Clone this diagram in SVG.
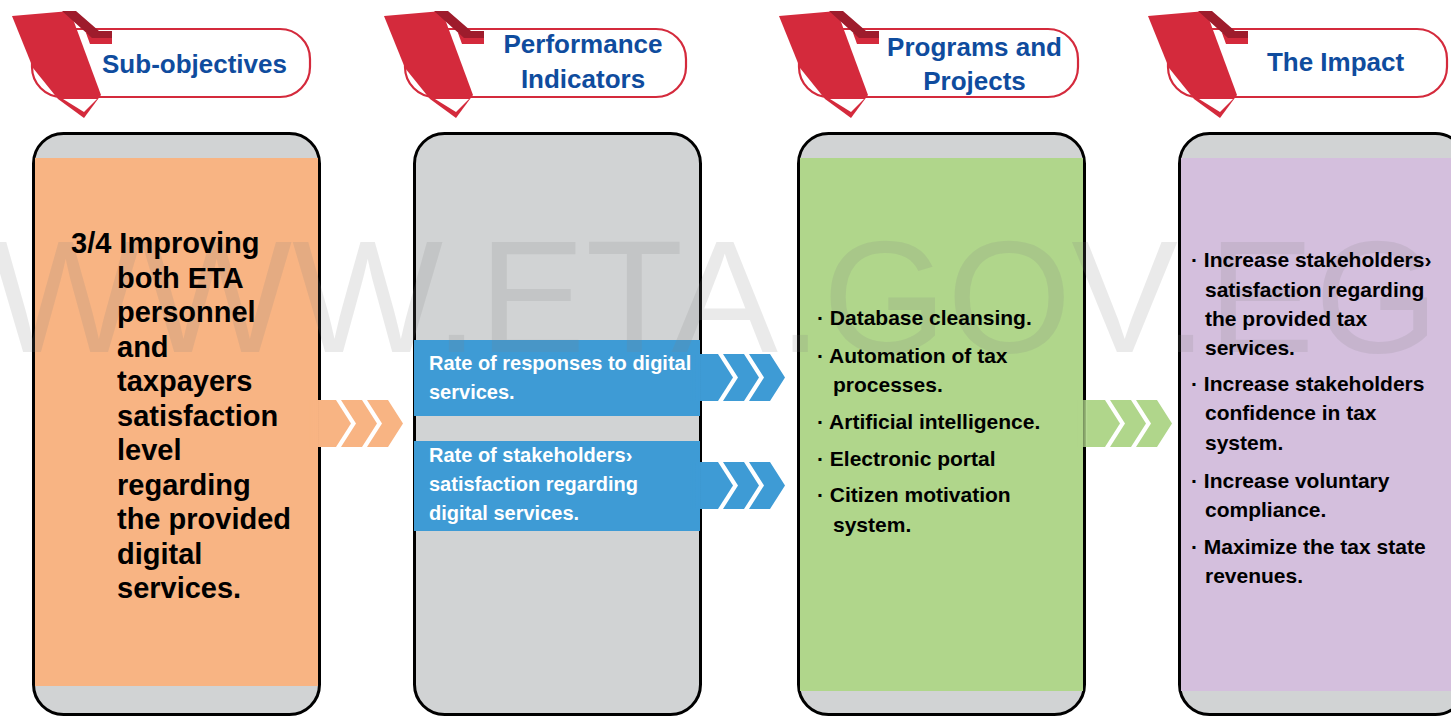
<svg xmlns="http://www.w3.org/2000/svg" xmlns:xlink="http://www.w3.org/1999/xlink" width="1451" height="716" viewBox="0 0 1451 716">
<style>
.box{fill:#d1d3d4;stroke:#000;stroke-width:3}
.pill{fill:#fff;stroke:#d42a3c;stroke-width:2.2}
.hdr{font-family:"Liberation Sans",Arial,sans-serif;font-weight:bold;font-size:26px;fill:#0f4c9e;text-anchor:middle}
.t1{font-family:"Liberation Sans",Arial,sans-serif;font-weight:bold;font-size:29px;fill:#000}
.t2{font-family:"Liberation Sans",Arial,sans-serif;font-weight:bold;font-size:20px;fill:#fff}
.t3{font-family:"Liberation Sans",Arial,sans-serif;font-weight:bold;font-size:21px;fill:#000}
.wm{font-family:"Liberation Sans",Arial,sans-serif;font-size:160px;fill:#808080;opacity:0.16}
</style>
<defs>
<linearGradient id="fg" x1="0" y1="0" x2="1" y2="0">
<stop offset="0" stop-color="#fff" stop-opacity="0.25"/>
<stop offset="0.25" stop-color="#fff" stop-opacity="1"/>
</linearGradient>
<mask id="fade" maskContentUnits="objectBoundingBox">
<rect width="1" height="1" fill="url(#fg)"/>
</mask>
<g id="ribbon">
<polygon points="12,16 70,11 101,95 84,118 58,99 33,68" fill="#d42a3c"/>
<polygon points="63,99 97,99 84,112" fill="#fff"/>
<polygon points="86,33 112,33 112,44 90,44" fill="#d42a3c"/>
<polygon points="62,11 76,11 99,31 112,31 112,38 92,38" fill="#9e1c2c"/>
</g>
<g id="chev">
<polygon points="0,0 28,0 43,23.5 28,47 0,47" mask="url(#fade)"/>
<polygon points="33,0 54,0 69,23.5 54,47 33,47 48,23.5"/>
<polygon points="59,0 80,0 95,23.5 80,47 59,47 74,23.5"/>
</g>
</defs>
<rect width="1451" height="716" fill="#fff"/>

<g id="header-1">
<rect class="pill" x="32" y="29" width="278" height="68" rx="30"/>
<use xlink:href="#ribbon" href="#ribbon"/>
<text class="hdr" x="194.5" y="73">Sub-objectives</text>
</g>
<g id="header-2">
<rect class="pill" x="405" y="29" width="281" height="68" rx="30"/>
<use xlink:href="#ribbon" href="#ribbon" transform="translate(372,0)"/>
<text class="hdr" x="583" y="53">Performance</text>
<text class="hdr" x="583" y="88">Indicators</text>
</g>
<g id="header-3">
<rect class="pill" x="799" y="29" width="279" height="68" rx="30"/>
<use xlink:href="#ribbon" href="#ribbon" transform="translate(767,0)"/>
<text class="hdr" x="974.5" y="56">Programs and</text>
<text class="hdr" x="974.5" y="90">Projects</text>
</g>
<g id="header-4">
<rect class="pill" x="1168" y="29" width="279" height="68" rx="30"/>
<use xlink:href="#ribbon" href="#ribbon" transform="translate(1136,0)"/>
<text class="hdr" x="1335.5" y="71">The Impact</text>
</g>

<g id="col-1">
<rect class="box" x="33.5" y="133.5" width="286" height="581" rx="30"/>
<rect x="35" y="158" width="283" height="528" fill="#f8b483"/>
</g>
<g id="col-2">
<rect class="box" x="414.5" y="133.5" width="286" height="581" rx="30"/>
<rect x="414" y="340" width="286" height="76" fill="#3e9bd5"/>
<rect x="414" y="441" width="286" height="90" fill="#3e9bd5"/>
</g>
<g id="col-3">
<rect class="box" x="798.5" y="133.5" width="286" height="581" rx="30"/>
<rect x="800" y="158" width="283" height="533" fill="#b0d68b"/>
</g>
<g id="col-4">
<rect class="box" x="1179.5" y="133.5" width="286" height="581" rx="30"/>
<rect x="1181" y="158" width="270" height="533" fill="#d4bfdd"/>
</g>

<g id="connectors">
<use xlink:href="#chev" href="#chev" transform="translate(308,400)" fill="#f8b483"/>
<use xlink:href="#chev" href="#chev" transform="translate(690,354)" fill="#3e9bd5"/>
<use xlink:href="#chev" href="#chev" transform="translate(690,462)" fill="#3e9bd5"/>
<use xlink:href="#chev" href="#chev" transform="translate(1077,400)" fill="#b0d68b"/>
</g>

<text class="wm" x="-10" y="352">WWW.ETA.GOV.EG</text>

<g id="text-1" class="t1">
<text x="71" y="253">3/4 Improving</text>
<text x="117" y="287.5">both ETA</text>
<text x="117" y="322">personnel</text>
<text x="117" y="356.5">and</text>
<text x="117" y="391">taxpayers</text>
<text x="117" y="425.5">satisfaction</text>
<text x="117" y="460">level</text>
<text x="117" y="494.5">regarding</text>
<text x="117" y="529">the provided</text>
<text x="117" y="563.5">digital</text>
<text x="117" y="598">services.</text>
</g>
<g id="text-2" class="t2">
<text x="429" y="370">Rate of responses to digital</text>
<text x="429" y="399">services.</text>
<text x="429" y="462">Rate of stakeholders›</text>
<text x="429" y="491">satisfaction regarding</text>
<text x="429" y="520">digital services.</text>
</g>
<g id="text-3" class="t3">
<text x="817" y="325">· Database cleansing.</text>
<text x="817" y="363">· Automation of tax</text>
<text x="833" y="392">processes.</text>
<text x="817" y="429">· Artificial intelligence.</text>
<text x="817" y="466">· Electronic portal</text>
<text x="817" y="502">· Citizen motivation</text>
<text x="833" y="532">system.</text>
</g>
<g id="text-4" class="t3">
<text x="1191" y="267">· Increase stakeholders›</text>
<text x="1205" y="297">satisfaction regarding</text>
<text x="1205" y="326">the provided tax</text>
<text x="1205" y="355">services.</text>
<text x="1191" y="391">· Increase stakeholders</text>
<text x="1205" y="420">confidence in tax</text>
<text x="1205" y="450">system.</text>
<text x="1191" y="488">· Increase voluntary</text>
<text x="1205" y="517">compliance.</text>
<text x="1191" y="554">· Maximize the tax state</text>
<text x="1205" y="583">revenues.</text>
</g>
</svg>
